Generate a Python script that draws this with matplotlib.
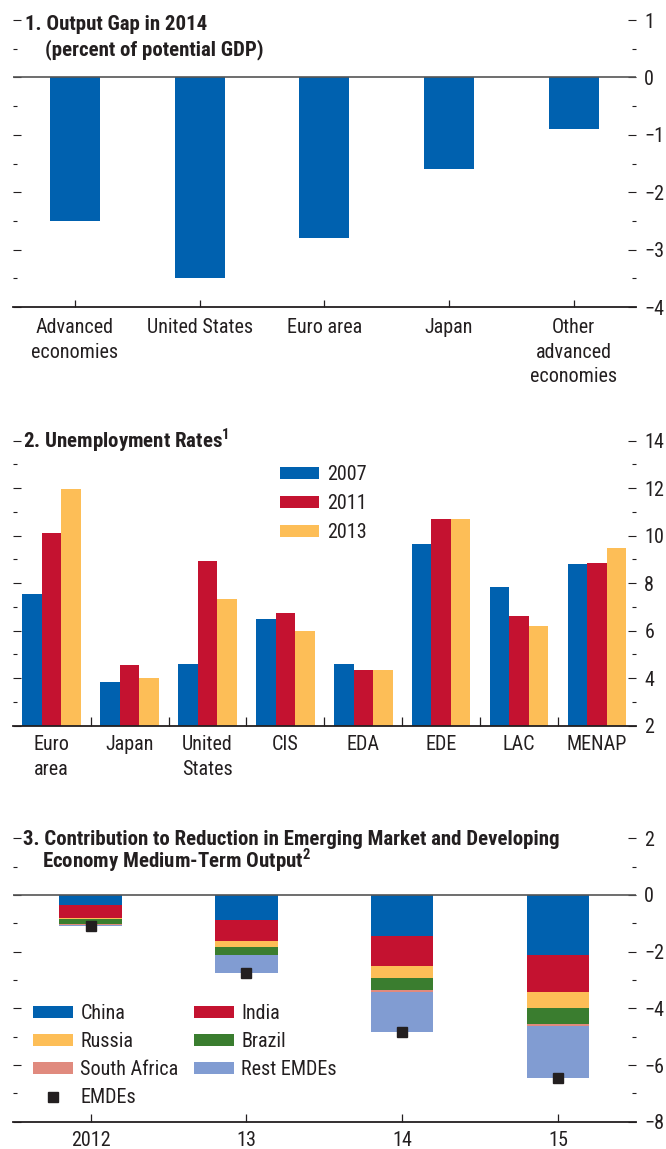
import matplotlib
matplotlib.use("Agg")
import matplotlib.pyplot as plt
from matplotlib import font_manager
from matplotlib.ticker import MultipleLocator, FixedLocator, NullFormatter
import numpy as np

# pick a condensed sans if one is installed
_names = {f.name for f in font_manager.fontManager.ttflist}
_cands = ["Liberation Sans Narrow", "Roboto Condensed", "Noto Sans Condensed",
          "Open Sans Condensed", "DejaVu Sans Condensed", "Liberation Sans"]
BASE = next((c for c in _cands if c in _names), "DejaVu Sans")
FONT = [BASE, "DejaVu Sans"]
plt.rcParams["font.family"] = FONT
plt.rcParams["mathtext.fontset"] = "custom"
plt.rcParams["mathtext.rm"] = BASE
plt.rcParams["mathtext.bf"] = BASE + ":bold"

# ---------------- data ----------------
gap_categories = ["Advanced\neconomies", "United States", "Euro area", "Japan",
                  "Other\nadvanced\neconomies"]
gap_values = [-2.5, -3.5, -2.8, -1.6, -0.9]

unemp_categories = ["Euro\narea", "Japan", "United\nStates", "CIS", "EDA", "EDE", "LAC", "MENAP"]
unemp_years = ["2007", "2011", "2013"]
unemp_2007 = [7.55, 3.85, 4.6, 6.5, 4.6, 9.65, 7.85, 8.8]
unemp_2011 = [10.1, 4.55, 8.95, 6.75, 4.35, 10.7, 6.6, 8.85]
unemp_2013 = [11.95, 4.0, 7.35, 6.0, 4.35, 10.7, 6.2, 9.5]

out_years = ["2012", "13", "14", "15"]
china = [-0.35, -0.88, -1.45, -2.13]
india = [-0.45, -0.75, -1.07, -1.31]
russia = [-0.04, -0.21, -0.41, -0.56]
brazil = [-0.20, -0.28, -0.42, -0.56]
south_africa = [-0.01, -0.01, -0.07, -0.07]
rest_emdes = [-0.04, -0.62, -1.41, -1.82]
emdes = [-1.09, -2.75, -4.83, -6.45]

# ---------------- style ----------------
BLUE = "#0061AF"
RED = "#C41230"
YELLOW = "#FDBE57"
GREEN = "#3A7D2F"
SALMON = "#E08A7E"
LIGHTBLUE = "#819CD2"
INK = "#231F20"

W, H = 666, 1149
fig = plt.figure(figsize=(W / 100, H / 100), dpi=100)

TICK_FS = 14.5
TITLE_FS = 15.0
LSP = 1.36


def fx(px):
    return px / W


def fy(py):
    return 1 - py / H


def make_axes(top_px, bottom_px):
    left, right = 12.7, 636
    return fig.add_axes([fx(left), fy(bottom_px), (right - left) / W, (bottom_px - top_px) / H])


def style(ax, major, minor, xtick_len):
    for s in ["top", "left", "right"]:
        ax.spines[s].set_visible(False)
    ax.spines["bottom"].set_color(INK)
    ax.spines["bottom"].set_linewidth(1.3)
    ax.yaxis.set_major_locator(MultipleLocator(major))
    ax.yaxis.set_minor_locator(MultipleLocator(minor))
    ax.tick_params(axis="y", which="both", direction="in", left=True, right=True,
                   labelleft=False, labelright=True, colors=INK, width=0.8,
                   labelsize=TICK_FS, pad=6)
    ax.tick_params(axis="y", which="major", length=5.5)
    ax.tick_params(axis="y", which="minor", length=3)
    ax.tick_params(axis="x", which="major", direction="in", length=xtick_len, width=0.9,
                   colors=INK, labelsize=TICK_FS, top=False)


# ---------------- panel 1 ----------------
ax1 = make_axes(20, 307)
x1 = np.arange(len(gap_categories))
ax1.bar(x1, gap_values, width=0.4, color=BLUE, zorder=2)
ax1.axhline(0, color="#555555", lw=1.2, zorder=3)
ax1.set_xlim(-0.5, len(gap_categories) - 0.5)
ax1.set_ylim(-4, 1)
style(ax1, 1, 0.5, 5)
ax1.set_xticks(x1)
ax1.set_xticklabels(gap_categories, linespacing=LSP, va="top")
ax1.tick_params(axis="x", pad=8)

fig.text(fx(25), fy(30), "1. Output Gap in 2014", fontsize=TITLE_FS, fontweight="bold",
         color=INK, va="baseline", ha="left")
fig.text(fx(44.6), fy(55), "(percent of potential GDP)", fontsize=TITLE_FS, fontweight="bold",
         color=INK, va="baseline", ha="left")

# ---------------- panel 2 ----------------
ax2 = make_axes(440.7, 725.7)
x2 = np.arange(len(unemp_categories))
bw = 0.25
series2 = [unemp_2007, unemp_2011, unemp_2013]
cols2 = [BLUE, RED, YELLOW]
for i, (vals, c, lab) in enumerate(zip(series2, cols2, unemp_years)):
    ax2.bar(x2 + (i - 1) * bw, np.array(vals) - 2, bottom=2, width=bw, color=c, label=lab, zorder=2)
ax2.set_xlim(-0.5, len(unemp_categories) - 0.5)
ax2.set_ylim(2, 14)
style(ax2, 2, 1, 6.5)
ax2.xaxis.set_major_locator(FixedLocator(x2[:-1] + 0.5))
ax2.xaxis.set_major_formatter(NullFormatter())
ax2.xaxis.set_minor_locator(FixedLocator(x2))
ax2.set_xticklabels(unemp_categories, minor=True, linespacing=LSP, va="top")
ax2.tick_params(axis="x", which="minor", length=0, labelsize=TICK_FS, colors=INK, pad=7)
ax2.tick_params(axis="y", which="minor", length=3)

leg2 = ax2.legend(loc="upper left", bbox_to_anchor=(fx(280), fy(465)),
                  bbox_transform=fig.transFigure, frameon=False, fontsize=TICK_FS,
                  handlelength=1.95, handleheight=0.55, handletextpad=0.4,
                  labelspacing=0.5, borderpad=0, borderaxespad=0)
for t in leg2.get_texts():
    t.set_color(INK)

fig.text(fx(23.4), fy(448), r"2. Unemployment Rates$^{\mathbf{1}}$", fontsize=TITLE_FS,
         fontweight="bold", color=INK, va="baseline", ha="left")

# ---------------- panel 3 ----------------
ax3 = make_axes(838.3, 1121.7)
x3 = np.arange(len(out_years))
stack = [china, india, russia, brazil, south_africa, rest_emdes]
names3 = ["China", "India", "Russia", "Brazil", "South Africa", "Rest EMDEs"]
cols3 = [BLUE, RED, YELLOW, GREEN, SALMON, LIGHTBLUE]
bottom = np.zeros(len(out_years))
handles = {}
for vals, c, n in zip(stack, cols3, names3):
    b = ax3.bar(x3, vals, bottom=bottom, width=0.4, color=c, label=n, zorder=2)
    handles[n] = b
    bottom = bottom + np.array(vals)
m, = ax3.plot(x3, emdes, "s", color=INK, ms=7, linestyle="none", zorder=4, label="EMDEs")
handles["EMDEs"] = m
ax3.axhline(0, color="#555555", lw=1.2, zorder=3)
ax3.set_xlim(-0.5, len(out_years) - 0.5)
ax3.set_ylim(-8, 2)
style(ax3, 2, 1, 6)
ax3.set_xticks(x3)
ax3.set_xticklabels(out_years)
ax3.tick_params(axis="x", pad=7)

order = ["China", "Russia", "South Africa", "EMDEs", "India", "Brazil", "Rest EMDEs"]
leg3 = ax3.legend([handles[k] for k in order], order, loc="upper left",
                  bbox_to_anchor=(fx(33), fy(1004)), bbox_transform=fig.transFigure,
                  ncol=2, frameon=False, fontsize=TICK_FS, handlelength=2.0,
                  handleheight=0.5, handletextpad=0.35, labelspacing=0.45,
                  columnspacing=0.75, borderpad=0, borderaxespad=0)
for t in leg3.get_texts():
    t.set_color(INK)

fig.text(fx(23.4), fy(845), "3. Contribution to Reduction in Emerging Market and Developing",
         fontsize=TITLE_FS, fontweight="bold", color=INK, va="baseline", ha="left")
fig.text(fx(41.6), fy(868), r"Economy Medium-Term Output$^{\mathbf{2}}$",
         fontsize=TITLE_FS, fontweight="bold", color=INK, va="baseline", ha="left")

fig.savefig("out.png", dpi=100)
